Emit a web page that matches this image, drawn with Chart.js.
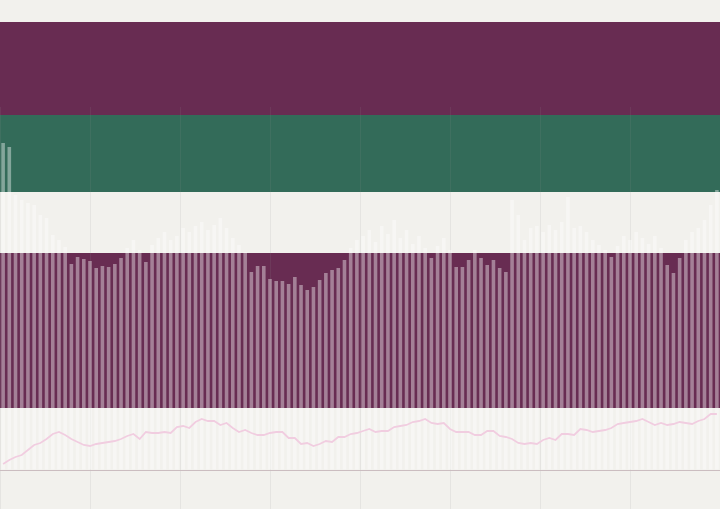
<!DOCTYPE html>
<html lang="en">

<head>
    <meta charset="UTF-8">
    <title>Bars and line</title>
    <script src="https://cdn.jsdelivr.net/npm/chart.js"></script>
    <style>
        html, body { margin: 0; padding: 0; background: #f2f1ed; }
        .wrap { width: 720px; height: 509px; position: relative; }
    </style>
</head>

<body>
    <div class="wrap"><canvas id="grafico"></canvas></div>

    <script>
        // bar heights (same units as the line)
        const barras = [
            163.5, 161.5, 137.5, 135, 133.5, 132.5, 127.5, 126, 117.5, 115,
            111.5, 103, 106.5, 105.5, 104.5, 101, 102, 101.5, 103, 106,
            111, 115, 110, 104, 112.5, 116, 119, 115, 117, 121,
            119, 122, 124, 120, 122.5, 126, 121, 116, 112.5, 109,
            99, 102, 102, 95.5, 94.5, 94.5, 93, 96.5, 92.5, 90,
            91.5, 95, 98.5, 100, 101, 105, 111, 115, 117, 120,
            114, 122, 118, 125, 116, 120, 113, 117, 111, 106,
            112, 116, 110, 101.5, 101.5, 105, 110, 106, 102.5, 105,
            101, 99, 135, 127.5, 115, 121, 122, 119, 122.5, 120,
            124, 136.5, 121, 122, 119, 115, 112.5, 110, 106.5, 112,
            117, 115, 119, 116, 113, 117, 111, 102.5, 98.5, 106,
            115, 119, 121, 125, 132.5, 140
        ];

        const linha = [
            3, 5, 6.5, 7.5, 10, 12.5, 13.5, 15.5, 18, 19,
            17.5, 15.5, 14, 12.5, 12, 13, 13.5, 14, 14.5, 15.5,
            17, 18, 15.5, 19, 18.5, 18.5, 19, 18.5, 21.5, 22,
            21, 24, 25.5, 24.5, 24.5, 22.5, 23.5, 21, 19, 20,
            18.5, 17.5, 17.5, 18.5, 19, 19, 16, 16, 13, 13.5,
            12, 13, 14.5, 14, 16.5, 16.5, 18, 18.5, 19.5, 20.5,
            19, 19.5, 19.5, 21.5, 22, 22.5, 24, 24.5, 25.5, 23.5,
            23, 23.5, 20.5, 19, 19, 19, 17.5, 17.5, 19.5, 19.5,
            17, 16.5, 15.5, 13.5, 13, 13.5, 13, 15, 16, 15,
            18, 18, 17.5, 20.5, 20, 19, 19.5, 20, 21, 23,
            23.5, 24, 24.5, 25.5, 24, 22.5, 23.5, 22.5, 23, 24,
            23.5, 23, 24.5, 25.5, 28, 28
        ];

        const rotulos = barras.map((_, i) => "P" + (i + 1));

        // colour bands behind the chart, in y units
        const faixasTopo = [224, 177.5, 108.5];
        const faixasBase = [177.5, 139, 31];
        const faixasCores = ["#682c52", "#336b59", "#682c52"];

        const faixasPlugin = {
            id: "faixas",
            beforeDraw(chart) {
                const ctx = chart.ctx;
                const y = chart.scales.y;
                ctx.save();
                for (let i = 0; i < faixasTopo.length; i++) {
                    const t = y.getPixelForValue(faixasTopo[i]);
                    const b = y.getPixelForValue(faixasBase[i]);
                    ctx.fillStyle = faixasCores[i];
                    ctx.fillRect(0, t, chart.width, b - t);
                }
                ctx.restore();
            }
        };

        new Chart(document.getElementById("grafico"), {
            data: {
                labels: rotulos,
                datasets: [
                    {
                        type: "line",
                        data: linha,
                        borderColor: "#f1cde0",
                        borderWidth: 1.8,
                        pointRadius: 0,
                        tension: 0,
                        order: 0
                    },
                    {
                        type: "bar",
                        data: barras,
                        backgroundColor: "rgba(255,255,255,0.4)",
                        borderWidth: 0,
                        categoryPercentage: 1,
                        barPercentage: 0.58,
                        order: 1
                    }
                ]
            },
            options: {
                responsive: true,
                maintainAspectRatio: false,
                animation: false,
                layout: { padding: { top: 107, left: 0, right: 0, bottom: 0 } },
                plugins: {
                    legend: { display: false },
                    tooltip: { enabled: false }
                },
                scales: {
                    x: { display: false },
                    xg: {
                        type: "linear",
                        position: "bottom",
                        min: 0,
                        max: 8,
                        ticks: { display: false, stepSize: 1 },
                        grid: { color: "rgba(150,150,150,0.13)", drawTicks: false },
                        border: { display: false }
                    },
                    y: {
                        min: -19.5,
                        max: 181.5,
                        ticks: { display: false, stepSize: 10 },
                        grid: {
                            drawTicks: false,
                            color: c => c.tick.value === 0 ? "#cbbdc0" : "transparent"
                        },
                        border: { display: false }
                    }
                }
            },
            plugins: [faixasPlugin]
        });
    </script>
</body>

</html>
